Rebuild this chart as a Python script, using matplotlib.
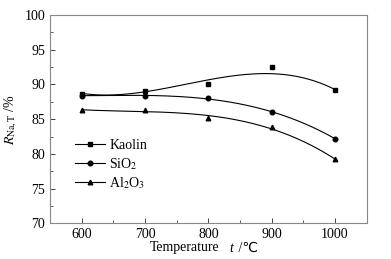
import numpy as np
import matplotlib.pyplot as plt
from matplotlib.ticker import MultipleLocator

plt.rcParams['font.family'] = ['Liberation Serif', 'DejaVu Serif']
plt.rcParams['mathtext.fontset'] = 'stix'

# Данные
temps = [600, 700, 800, 900, 1000]
kaolin = [88.6, 89.05, 90.0, 92.45, 89.15]
sio2 = [88.4, 88.35, 88.0, 86.0, 82.2]
al2o3 = [86.3, 86.3, 85.2, 83.8, 79.2]

series = [
    (kaolin, 's', 'Kaolin', [1, 2, 1, 0.7, 1]),
    (sio2, 'o', 'SiO$_2$', [1, 1, 1, 1, 1]),
    (al2o3, '^', 'Al$_2$O$_3$', [1, 1, 1, 1, 1]),
]

fig = plt.figure(figsize=(3.91, 2.59), dpi=100)
ax = fig.add_axes([50 / 391, 1 - 223.3 / 259, 316.7 / 391, 208.3 / 259])

tt = np.linspace(600, 1000, 200)
for vals, mk, lab, w in series:
    coef = np.polyfit(temps, vals, 3, w=w)
    ax.plot(tt, np.polyval(coef, tt), color='black', lw=0.8)
    ax.plot(temps, vals, ls='none', marker=mk, ms=3.3, color='black')
    ax.plot([], [], color='black', lw=0.8, marker=mk, ms=3.3, label=lab)

ax.set_xlim(550, 1050)
ax.set_ylim(70, 100)
ax.xaxis.set_major_locator(MultipleLocator(100))
ax.xaxis.set_minor_locator(MultipleLocator(50))
ax.yaxis.set_major_locator(MultipleLocator(5))
ax.yaxis.set_minor_locator(MultipleLocator(2.5))
ax.tick_params(which='both', direction='in', labelsize=10, color='#444444')
ax.tick_params(which='major', length=3.5, width=0.7)
ax.tick_params(which='minor', length=2, width=0.6)
for sp in ax.spines.values():
    sp.set_color('#888888')
    sp.set_linewidth(0.8)

# подпись оси x
fig.text(185 / 391, 1 - 248 / 259, 'Temperature', ha='center', va='center', fontsize=10)
fig.text(229 / 391, 1 - 248 / 259, 't', ha='left', va='center', fontsize=10, style='italic')
fig.text(235 / 391, 1 - 248 / 259, ' /℃', ha='left', va='center', fontsize=10,
         family=['Liberation Serif', 'DejaVu Sans'])
ax.set_ylabel('$R_{\\mathrm{Na,T}}$ /%', fontsize=10, labelpad=4)

ax.legend(loc='upper left', bbox_to_anchor=(0.06, 0.43), frameon=False,
          fontsize=10, handlelength=2.2, handletextpad=0.3, labelspacing=0.25,
          borderaxespad=0)

fig.savefig('out.png', dpi=100)
